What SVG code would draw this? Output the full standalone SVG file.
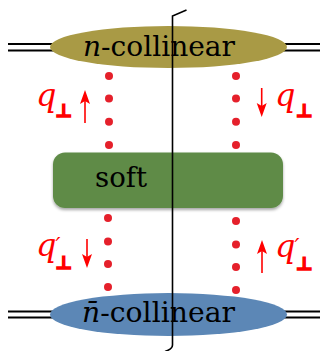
<svg xmlns="http://www.w3.org/2000/svg" width="326" height="351" viewBox="0 0 326 351">
<defs>
<style>
.dot{fill:#e5202b;}
.dbl{stroke:#000;stroke-width:1.8;fill:none;}
.arr{stroke:#ff0000;stroke-width:1.6;fill:none;}
.head{fill:#ff0000;}
.serif{font-family:"DejaVu Serif","Liberation Serif",serif;}
</style>
<filter id="soften" x="-5%" y="-20%" width="110%" height="140%"><feGaussianBlur stdDeviation="0.7"/></filter>
<filter id="shadow" x="-10%" y="-20%" width="120%" height="150%"><feDropShadow dx="0" dy="2" stdDeviation="1.5" flood-color="#000" flood-opacity="0.35"/></filter>
</defs>

<g id="external-lines">
<line class="dbl" x1="8" y1="44" x2="56" y2="44"/>
<line class="dbl" x1="8" y1="50.5" x2="56" y2="50.5"/>
<line class="dbl" x1="281" y1="44" x2="320" y2="44"/>
<line class="dbl" x1="281" y1="50.5" x2="320" y2="50.5"/>
<line class="dbl" x1="8" y1="311.5" x2="56" y2="311.5"/>
<line class="dbl" x1="8" y1="317.5" x2="56" y2="317.5"/>
<line class="dbl" x1="281" y1="311.5" x2="320" y2="311.5"/>
<line class="dbl" x1="281" y1="317.5" x2="320" y2="317.5"/>
</g>

<g id="n-collinear">
<ellipse cx="168.5" cy="47" rx="118.5" ry="21" fill="#a99a45" filter="url(#soften)"/>
<text class="serif" x="83" y="56" font-size="28" fill="#000" textLength="152" lengthAdjust="spacingAndGlyphs"><tspan font-style="italic">n</tspan>-collinear</text>
</g>

<g id="soft">
<rect x="53" y="152.5" width="230" height="55.5" rx="12" fill="#5e8b47" filter="url(#shadow)"/>
<text class="serif" x="95" y="187" font-size="28" fill="#000" textLength="52" lengthAdjust="spacingAndGlyphs">soft</text>
</g>

<g id="nbar-collinear">
<ellipse cx="168.5" cy="314.5" rx="118.5" ry="21.5" fill="#5b87b6" filter="url(#soften)"/>
<text class="serif" x="82" y="321.7" font-size="28" fill="#000" textLength="153" lengthAdjust="spacingAndGlyphs"><tspan font-style="italic">n̄</tspan>-collinear</text>
</g>

<g id="connectors">
<g id="top-left-dots">
<circle class="dot" cx="109" cy="76" r="4"/>
<circle class="dot" cx="109" cy="98.5" r="4"/>
<circle class="dot" cx="109" cy="121.7" r="4"/>
<circle class="dot" cx="109" cy="145" r="4"/>
</g>
<g id="top-right-dots">
<circle class="dot" cx="236" cy="76" r="4"/>
<circle class="dot" cx="236" cy="98.5" r="4"/>
<circle class="dot" cx="236" cy="121.7" r="4"/>
<circle class="dot" cx="236" cy="145" r="4"/>
</g>
<g id="bottom-left-dots">
<circle class="dot" cx="108" cy="218" r="4"/>
<circle class="dot" cx="108" cy="241.5" r="4"/>
<circle class="dot" cx="108" cy="264" r="4"/>
<circle class="dot" cx="108" cy="287" r="4"/>
</g>
<g id="bottom-right-dots">
<circle class="dot" cx="236" cy="221" r="4"/>
<circle class="dot" cx="236" cy="244.5" r="4"/>
<circle class="dot" cx="236" cy="267" r="4"/>
<circle class="dot" cx="236" cy="290" r="4"/>
</g>
<path id="cut" d="M186.5 10 L172.5 16 L172.5 345 Q172.5 349 165 351.5" stroke="#000" stroke-width="1.6" fill="none"/>
</g>

<g id="labels" fill="#ff0000">
<g class="serif" font-style="italic" font-size="32">
<text x="36" y="106">q</text>
<text x="275" y="106">q</text>
<text x="36" y="256">q<tspan dx="-1" dy="-3" font-size="22">′</tspan></text>
<text x="275" y="257">q<tspan dx="-1" dy="-3" font-size="22">′</tspan></text>
</g>
<g font-family="'DejaVu Sans', sans-serif" font-weight="bold" font-size="18" stroke="#ff0000" stroke-width="1.6">
<text x="55.5" y="117">⊥</text>
<text x="296" y="117">⊥</text>
<text x="55.5" y="269">⊥</text>
<text x="296" y="270">⊥</text>
</g>
<line class="arr" x1="85" y1="123" x2="85" y2="100"/>
<polygon class="head" points="85,90 80,104 85,101 90,104"/>

<polygon class="head" points="261.7,117 256.7,103 261.7,106 266.7,103"/>
<line class="arr" x1="261.7" y1="88" x2="261.7" y2="107"/>

<line class="arr" x1="87" y1="239" x2="87" y2="258"/>
<polygon class="head" points="87,268 82,254 87,257 92,254"/>

<line class="arr" x1="262" y1="273" x2="262" y2="250"/>
<polygon class="head" points="262,240 257,254 262,251 267,254"/>
</g>
</svg>
